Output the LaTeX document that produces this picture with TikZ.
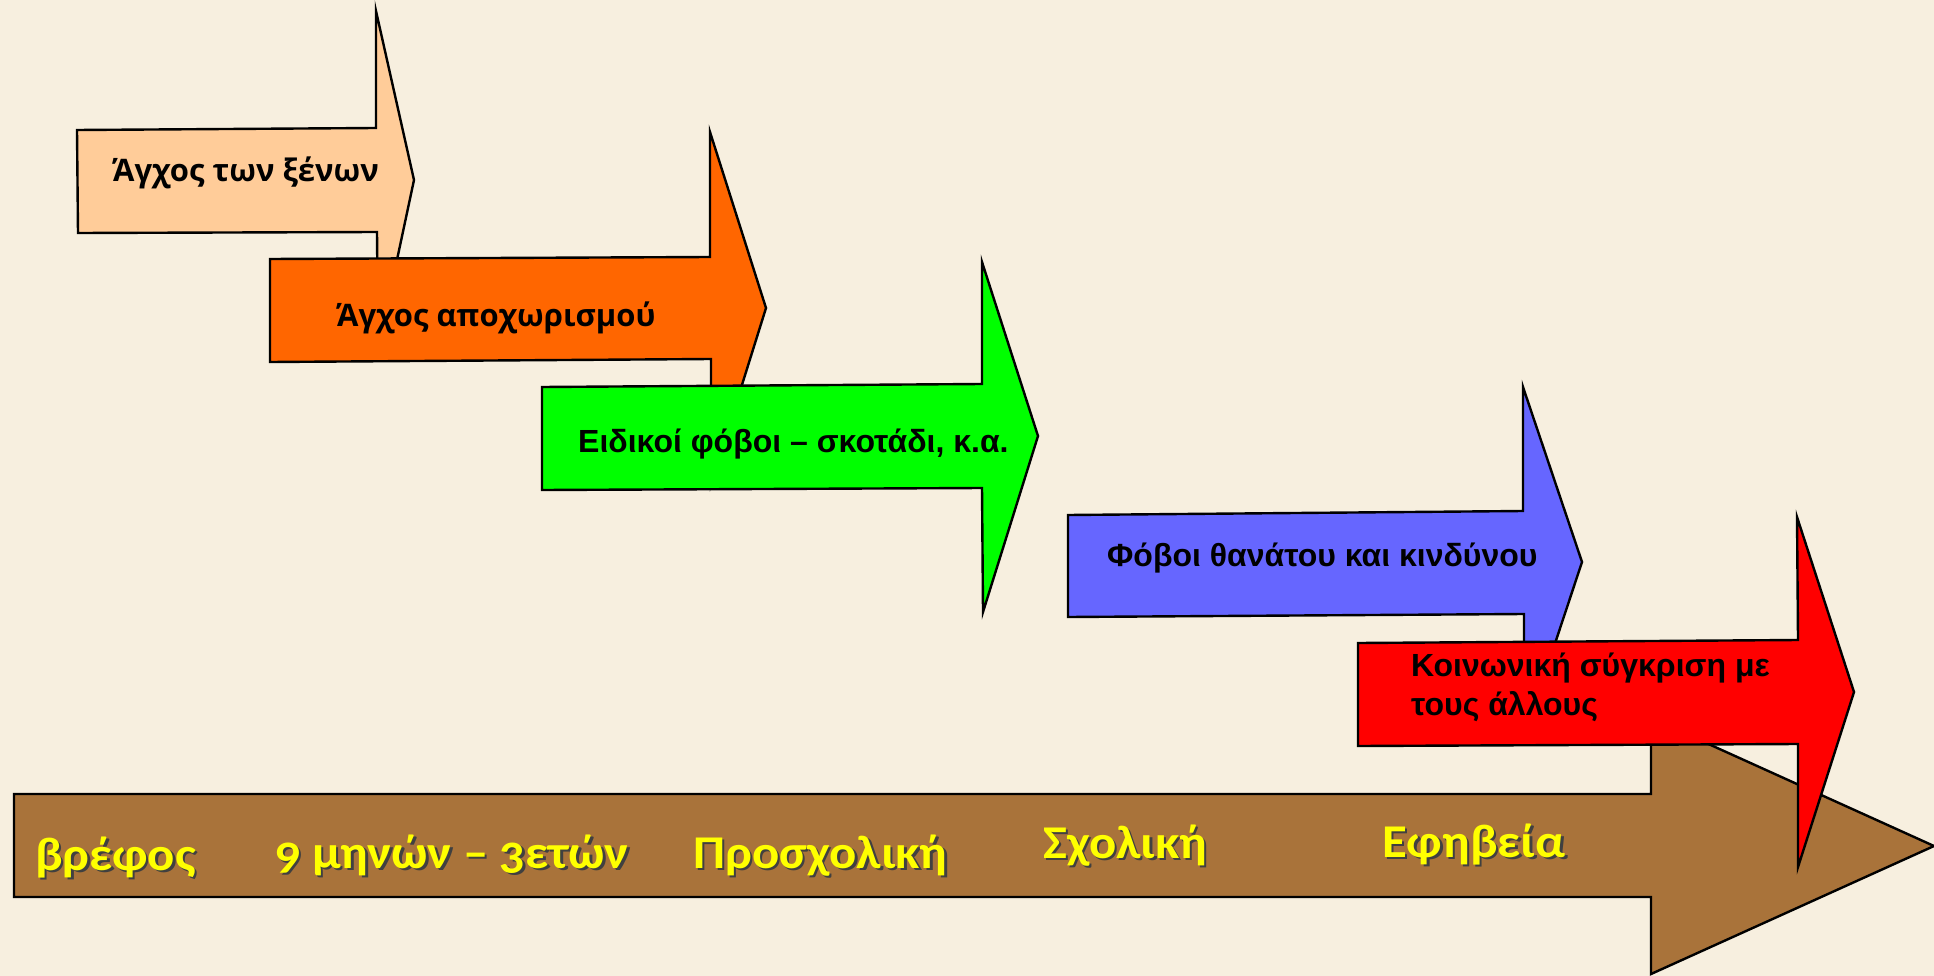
\documentclass[tikz,border=0pt]{standalone}
\usepackage{fontspec}
\setmainfont{Liberation Sans}
\newfontfamily\humfont{Open Sans}
\newfontfamily\agefont[Numbers=OldStyle,FakeStretch=1.08]{Carlito}
\definecolor{bg}{HTML}{F7EFDF}
\definecolor{peach}{HTML}{FFCC99}
\definecolor{orangeb}{HTML}{FF6600}
\definecolor{greenb}{HTML}{00FF00}
\definecolor{blueb}{HTML}{6666FF}
\definecolor{redb}{HTML}{FF0000}
\definecolor{brownb}{HTML}{A9733A}
\definecolor{ageyellow}{HTML}{FFFF00}
\tikzset{
  arrowshape/.style={draw=black, line width=2.4pt, line join=miter},
  boxlabel/.style={anchor=base west, inner sep=0pt, text=black, font=\fontsize{32}{38}\selectfont\bfseries},
  humlabel/.style={anchor=base west, inner sep=0pt, text=black, font=\humfont\fontsize{31}{37}\selectfont\bfseries},
  agelabel/.style={anchor=base west, inner sep=0pt, text=ageyellow, font=\agefont\fontsize{47}{56}\selectfont\bfseries},
  ageshadow/.style={anchor=base west, inner sep=0pt, text=black!75, font=\agefont\fontsize{47}{56}\selectfont\bfseries}
}
\begin{document}
\begin{tikzpicture}[x=1pt,y=-1pt]
\useasboundingbox (0,0) rectangle (1934,976);
\fill[bg] (0,0) rectangle (1934,976);
% brown timeline arrow
\filldraw[arrowshape, fill=brownb] (14,794) -- (1651,794) -- (1651,718) -- (1934,846) -- (1651,974) -- (1651,897) -- (14,897) -- cycle;
% peach
\filldraw[arrowshape, fill=peach] (77,130) -- (376,128) -- (376,11) -- (414,180) -- (378,349) -- (377,232) -- (78,233) -- cycle;
% orange
\filldraw[arrowshape, fill=orangeb] (270,259) -- (710,257) -- (710,132) -- (766,308) -- (711,484) -- (711,359) -- (270,362) -- cycle;
% green
\filldraw[arrowshape, fill=greenb] (542,387) -- (982,384) -- (982,262) -- (1038,436) -- (983,612) -- (982,488) -- (542,490) -- cycle;
% blue
\filldraw[arrowshape, fill=blueb] (1068,515) -- (1523,511) -- (1523,387) -- (1582,562) -- (1524,737) -- (1524,614) -- (1068,617) -- cycle;
% red
\filldraw[arrowshape, fill=redb] (1358,643) -- (1798,640) -- (1797,517) -- (1854,692) -- (1798,867) -- (1798,744) -- (1358,746) -- cycle;
% labels
\node[humlabel] (l1) at (113,182) {Άγχος των ξένων};
\node[humlabel] (l2) at (337,326) {Άγχος αποχωρισμού};
\node[boxlabel] (l3) at (578,452) {Ειδικοί φόβοι – σκοτάδι, κ.α.};
\node[boxlabel] (l4) at (1107,566) {Φόβοι θανάτου και κινδύνου};
\node[boxlabel] (l5a) at (1411,676) {Κοινωνική σύγκριση με};
\node[boxlabel] (l5b) at (1411,715) {τους άλλους};
% ages with shadow
\foreach \nm/\px/\py/\tx in {a1/35/870/βρέφος, a2/275/868/9 μηνών – 3ετών, a3/693/868/Προσχολική, a4/1043/858/Σχολική, a5/1382/857/Εφηβεία}{
  \node[ageshadow] (\nm s) at (\px+2.5,\py+2.5) {\tx};
  \node[agelabel] (\nm) at (\px,\py) {\tx};
}
\end{tikzpicture}
\end{document}
